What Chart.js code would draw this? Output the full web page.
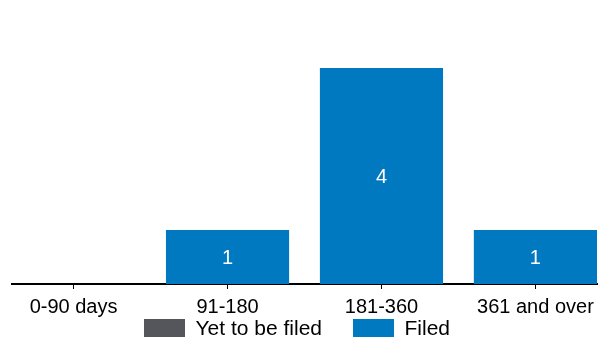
<!DOCTYPE html>
<html>
<head>
<meta charset="utf-8">
<script src="https://cdn.jsdelivr.net/npm/chart.js@4/dist/chart.umd.min.js"></script>
<style>
  html, body { margin: 0; padding: 0; background: #fff; }
  #wrap { width: 610px; height: 354px; }
</style>
</head>
<body>
<div id="wrap"><canvas id="chart"></canvas></div>
<script>
// ── Data ──
const categories = ['0-90 days', '91-180', '181-360', '361 and over'];
const yetToBeFiled = [0, 0, 0, 0];
const filed = [0, 1, 4, 1];

const GRAY = '#55565b';
const BLUE = '#0079c1';
const FONT = "'Liberation Sans', Arial, sans-serif";

Chart.defaults.font.family = FONT;
Chart.defaults.color = '#000';

function toPoints(arr) { return arr.map((v, i) => ({ x: i, y: v })); }

// value labels inside the bars
const barLabels = {
    id: 'barLabels',
    afterDatasetsDraw(chart) {
        const ctx = chart.ctx;
        ctx.save();
        ctx.fillStyle = '#fff';
        ctx.font = '20px ' + FONT;
        ctx.textAlign = 'center';
        ctx.textBaseline = 'middle';
        chart.data.datasets.forEach((ds, di) => {
            const meta = chart.getDatasetMeta(di);
            meta.data.forEach((el, i) => {
                const v = ds.data[i].y;
                if (!v) return;
                ctx.fillText(String(v), el.x, (el.y + el.base) / 2 + 1);
            });
        });
        ctx.restore();
    }
};

// legend drawn under the axis
const bottomLegend = {
    id: 'bottomLegend',
    afterDraw(chart) {
        const ctx = chart.ctx;
        const boxW = 41, boxH = 18, gap = 10.5, itemGap = 31;
        ctx.save();
        ctx.font = '21px ' + FONT;
        ctx.textBaseline = 'middle';
        const items = chart.data.datasets.map(ds => ({
            label: ds.label, color: ds.backgroundColor,
            w: boxW + gap + ctx.measureText(ds.label).width
        }));
        const total = items.reduce((s, it) => s + it.w, 0) + itemGap * (items.length - 1);
        let x = 297 - total / 2;
        const top = chart.chartArea.bottom + 35;
        items.forEach(it => {
            ctx.fillStyle = it.color;
            ctx.fillRect(x, top, boxW, boxH);
            ctx.fillStyle = '#000';
            ctx.fillText(it.label, x + boxW + gap, top + boxH / 2 + 1);
            x += it.w + itemGap;
        });
        ctx.restore();
    }
};

new Chart(document.getElementById('chart'), {
    type: 'bar',
    data: {
        datasets: [
            { label: 'Yet to be filed', data: toPoints(yetToBeFiled), backgroundColor: GRAY, borderWidth: 0 },
            { label: 'Filed', data: toPoints(filed), backgroundColor: BLUE, borderWidth: 0 }
        ]
    },
    options: {
        responsive: true,
        maintainAspectRatio: false,
        animation: false,
        categoryPercentage: 1,
        barPercentage: 0.8,
        layout: { padding: { top: 14, left: 12, right: 13, bottom: 33 } },
        plugins: { legend: { display: false }, tooltip: { enabled: false } },
        scales: {
            x: {
                type: 'linear',
                stacked: true,
                offset: false,
                min: -0.4,
                max: 3.4,
                afterBuildTicks: axis => { axis.ticks = categories.map((c, i) => ({ value: i })); },
                afterFit: axis => { axis.height = 37; },
                ticks: { callback: v => categories[v], font: { size: 20 }, color: '#000', padding: 6, maxRotation: 0, autoSkip: false },
                grid: { offset: false, drawOnChartArea: false, drawTicks: true, tickLength: 5, color: '#000', lineWidth: 1 },
                border: { display: true, color: '#000', width: 2 }
            },
            y: {
                stacked: true,
                display: false,
                min: 0,
                max: 5
            }
        }
    },
    plugins: [barLabels, bottomLegend]
});
</script>
</body>
</html>
